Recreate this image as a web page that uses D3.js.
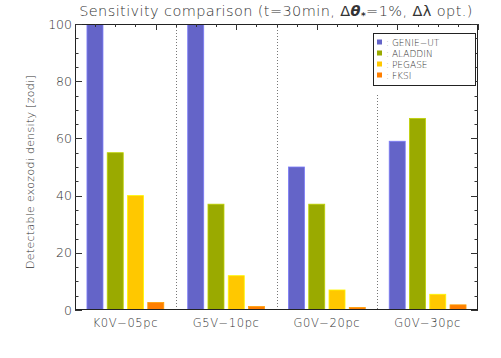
<!DOCTYPE html>
<html><head><meta charset="utf-8">
<script src="https://cdn.jsdelivr.net/npm/d3@7"></script>
<style>body{margin:0;background:#fff}svg{display:block}</style>
</head><body>
<script>
const categories = ["K0V\u221205pc", "G5V\u221210pc", "G0V\u221220pc", "G0V\u221230pc"];
const series = ["GENIE\u2212UT", "ALADDIN", "PEGASE", "FKSI"];
const colors = ["#6464c8", "#9aaa00", "#ffc800", "#ff7f00"];
const values = {
  "GENIE\u2212UT": [100, 100, 50, 59],
  "ALADDIN": [55, 37, 37, 67],
  "PEGASE": [40, 12, 7, 5.5],
  "FKSI": [2.6, 1.2, 0.9, 1.8]
};
const yTicks = [0, 20, 40, 60, 80, 100];

const W = 501, H = 358;
const L = 75, R = 478, T = 24, B = 310;
const svg = d3.select("body").append("svg").attr("width", W).attr("height", H);
const txt = "#333";

const x0 = d3.scaleBand().domain(categories).range([L, R]).padding(0);
const x1 = d3.scaleBand().domain(series).range([0, x0.bandwidth()]).paddingInner(0.21).paddingOuter(0.59);
const y = d3.scaleLinear().domain([0, 100]).range([B, T]);

svg.append("clipPath").attr("id", "c").append("rect").attr("x", L).attr("y", T).attr("width", R - L).attr("height", B - T);

// separators
const seps = [categories[1], categories[2], categories[3]];
svg.append("g").selectAll("line").data(seps).join("line")
  .attr("x1", d => Math.round(x0(d)) + 0.5).attr("x2", d => Math.round(x0(d)) + 0.5)
  .attr("y1", (d, i) => i === 2 ? 95 : T).attr("y2", B)
  .attr("stroke", "#777").attr("stroke-width", 1).attr("stroke-dasharray", "1,2");

// bars
const g = svg.append("g").attr("clip-path", "url(#c)");
series.forEach((s, si) => {
  g.append("g").selectAll("rect").data(values[s]).join("rect")
    .attr("x", (d, i) => x0(categories[i]) + x1(s))
    .attr("width", x1.bandwidth())
    .attr("y", d => y(d))
    .attr("height", d => B - y(d))
    .attr("fill", colors[si])
    .attr("stroke", d3.color(colors[si]).brighter(0.6)).attr("stroke-width", 0.8);
});

// axes frame
const ax = svg.append("g").attr("stroke", "#000").attr("stroke-width", 1);
ax.append("rect").attr("x", L + 0.5).attr("y", T + 0.5).attr("width", R - L - 1).attr("height", B - T - 1).attr("fill", "none").attr("stroke", "#222");
const yMinor = d3.range(0, 101, 5);
yMinor.forEach(v => {
  const major = v % 20 === 0;
  const len = major ? 7 : 3.5;
  const yy = Math.round(y(v)) + 0.5;
  ax.append("line").attr("x1", L).attr("x2", L + len).attr("y1", yy).attr("y2", yy).attr("stroke", "#333");
  ax.append("line").attr("x1", R).attr("x2", R - len).attr("y1", yy).attr("y2", yy).attr("stroke", "#333");
});
const xt = d3.scaleLinear().domain([0, 20]).range([L, R]);
d3.range(0, 21).forEach(v => {
  const major = v % 4 === 0;
  const xx = Math.round(xt(v)) + 0.5;
  ax.append("line").attr("x1", xx).attr("x2", xx).attr("y1", T).attr("y2", T + (major ? 6 : 3)).attr("stroke", "#333");
});

// y tick labels
svg.append("g").selectAll("text").data(yTicks).join("text")
  .attr("x", L - 3).attr("y", d => y(d) + 4.5)
  .attr("text-anchor", "end").attr("fill", txt)
  .attr("font-family", "DejaVu Sans").attr("font-size", 12.5).attr("font-weight", 200)
  .text(d => d);

// category labels
svg.append("g").selectAll("text").data(categories).join("text")
  .attr("x", d => x0(d) + x0.bandwidth() / 2).attr("y", 327)
  .attr("text-anchor", "middle").attr("fill", txt)
  .attr("font-family", "DejaVu Sans").attr("font-size", 11.5).attr("font-weight", 200).attr("letter-spacing", 0.6)
  .text(d => d);

// y label
svg.append("text").attr("transform", "translate(34,172) rotate(-90)")
  .attr("text-anchor", "middle").attr("fill", txt)
  .attr("font-family", "DejaVu Sans").attr("font-size", 11).attr("font-weight", 200).attr("letter-spacing", 0.3)
  .text("Detectable exozodi density [zodi]");

// title
const t = svg.append("text").attr("x", 276).attr("y", 16).attr("text-anchor", "middle")
  .attr("fill", txt).attr("font-family", "DejaVu Sans").attr("font-size", 14.5).attr("font-weight", 200).attr("letter-spacing", 0.4);
t.append("tspan").text("Sensitivity comparison (t=30min, ");
t.append("tspan").text("\u0394").attr("font-weight", 400);
t.append("tspan").text("\u03b8").attr("font-weight", "bold").attr("font-style", "italic");
t.append("tspan").text("*").attr("font-size", 9).attr("dy", 3).attr("font-weight", "bold");
t.append("tspan").text("=1%, ").attr("dy", -3);
t.append("tspan").text("\u0394\u03bb").attr("font-weight", 400);
t.append("tspan").text(" opt.)");

// legend
const lg = svg.append("g");
lg.append("rect").attr("x", 373.5).attr("y", 33.5).attr("width", 102).attr("height", 52)
  .attr("fill", "#fff").attr("stroke", "#222");
series.forEach((s, i) => {
  const yy = 42 + i * 11;
  lg.append("rect").attr("x", 377).attr("y", yy - 2.5).attr("width", 5).attr("height", 5).attr("fill", colors[i]);
  lg.append("text").attr("x", 386).attr("y", yy + 3.5).attr("fill", txt)
    .attr("font-family", "DejaVu Sans").attr("font-size", 9).attr("font-weight", 200)
    .text(":  " + s);
});
</script>
</body></html>
